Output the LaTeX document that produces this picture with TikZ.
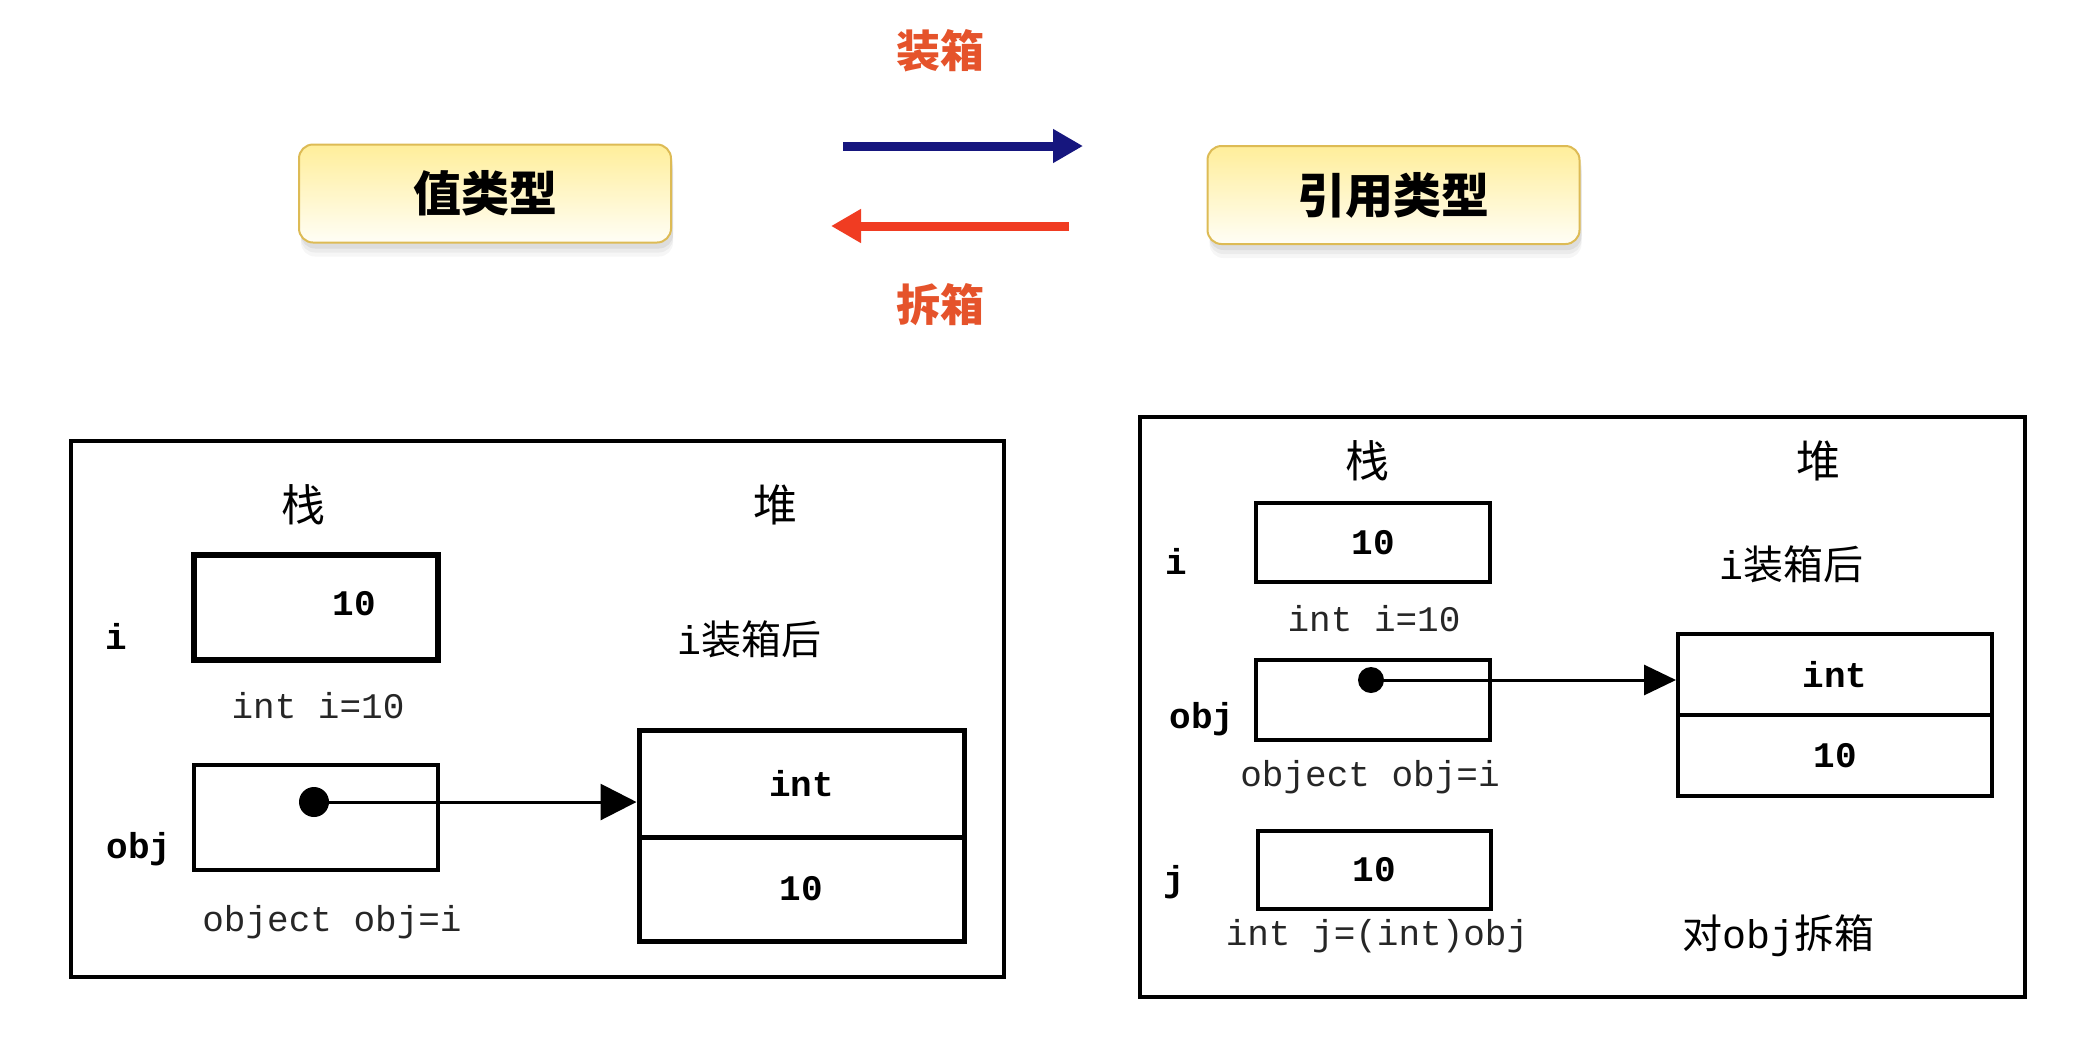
\documentclass[tikz,border=0pt]{standalone}
\usepackage{fontspec}
\usetikzlibrary{arrows.meta,shadows}
\newfontfamily\cjk{Noto Sans CJK SC}
\newfontfamily\mono{Liberation Mono}
\definecolor{ytop}{HTML}{FFEE9A}
\definecolor{ybot}{HTML}{FFFEF6}
\definecolor{yborder}{HTML}{DDBB55}
\definecolor{boxnavy}{HTML}{16167E}
\definecolor{unboxred}{HTML}{F03C22}
\definecolor{labelorange}{HTML}{E5532B}
\tikzset{
  typebox/.style={draw=yborder, line width=1pt, rounded corners=7pt,
    top color=ytop, bottom color=ybot, minimum width=186pt, minimum height=49pt,
    general shadow={shadow xshift=1pt, shadow yshift=-7pt, fill=black, opacity=0.035},
    general shadow={shadow xshift=1pt, shadow yshift=-5pt, fill=black, opacity=0.045},
    general shadow={shadow xshift=1pt, shadow yshift=-3pt, fill=black, opacity=0.06},
    font=\cjk\bfseries\fontsize{24}{28}\selectfont},
  bigarrow/.style={line width=4.5pt, -{Triangle[length=15pt,width=16pt]}},
  actionlabel/.style={text=labelorange, font=\cjk\bfseries\fontsize{22}{26}\selectfont},
  panel/.style={draw, line width=2pt, inner sep=0pt},
  cell/.style={draw, inner sep=0pt, font=\mono\bfseries\fontsize{18}{20}\selectfont},
  heading/.style={font=\cjk\fontsize{22}{26}\selectfont},
  varname/.style={font=\mono\bfseries\fontsize{18}{20}\selectfont},
  codetext/.style={text=black!85, font=\mono\fontsize{18}{20}\selectfont},
  note/.style={font=\fontsize{20}{24}\selectfont},
  refdot/.style={circle, fill=black, inner sep=0pt},
  pointer/.style={line width=1.5pt}
}
\begin{document}
\begin{tikzpicture}[x=0.5pt,y=-0.5pt]
\useasboundingbox (0,0) rectangle (2096,1045);
\fill[white] (0,0) rectangle (2096,1045);

% top part
\node[typebox] (value) at (485,193.5) {值类型};
\node[typebox] (reference) at (1393.5,195) {引用类型};
\coordinate (boxS) at (843,146);
\coordinate (boxE) at (1083,146);
\coordinate (unboxS) at (1069,226);
\coordinate (unboxE) at (831,226);
\draw[bigarrow, draw=boxnavy, fill=boxnavy] (boxS) -- (boxE);
\draw[bigarrow, draw=unboxred, fill=unboxred] (unboxS) -- (unboxE);
\node[actionlabel] (boxing) at (940,51) {装箱};
\node[actionlabel] (unboxing) at (940,305) {拆箱};

% left panel
\node[panel, minimum width=466.5pt, minimum height=268pt] (lframe) at (537.5,709) {};
\node[heading] (lstack) at (303,505) {栈};
\node[heading] (lheap) at (775,505) {堆};
\node[cell, line width=3pt, minimum width=122pt, minimum height=52.5pt] (li) at (316,607.5) {};
\node[varname] (livalue) at (354,604) {10};
\node[varname] (liname) at (116,636) {i};
\node[codetext] (licode) at (318,706) {int i=10};
\node[note] (lafter) at (749,639) {{\mono i}{\cjk 装箱后}};
\node[cell, line width=2pt, minimum width=122pt, minimum height=52.5pt] (lobj) at (316,817.5) {};
\node[varname] (lobjname) at (139,849) {obj};
\node[codetext] (lobjcode) at (332,922) {object obj=i};
\node[cell, line width=2.5pt, minimum width=162.5pt, minimum height=53.5pt] (lheapt) at (801.5,783.5) {int};
\node[cell, line width=2.5pt, minimum width=162.5pt, minimum height=52pt] (lheapb) at (801.5,889) {10};
\node[refdot, minimum size=15pt] (ldot) at (314,802) {};
\draw[pointer, -{Triangle[length=18pt,width=18pt]}] (ldot.center) -- (ldot.center -| lheapt.west);

% right panel
\node[panel, minimum width=442.5pt, minimum height=290pt] (rframe) at (1582.5,707) {};
\node[heading] (rstack) at (1367,461) {栈};
\node[heading] (rheap) at (1818,461) {堆};
\node[cell, line width=2pt, minimum width=117pt, minimum height=39.5pt] (ri) at (1373,542.5) {10};
\node[varname] (riname) at (1176,561) {i};
\node[codetext] (ricode) at (1374,619) {int i=10};
\node[note] (rafter) at (1791,564) {{\mono i}{\cjk 装箱后}};
\node[cell, line width=2pt, minimum width=117pt, minimum height=40pt] (robj) at (1373,700) {};
\node[varname] (robjname) at (1202,719) {obj};
\node[codetext] (robjcode) at (1370,777) {object obj=i};
\node[cell, line width=2pt, minimum width=157pt, minimum height=40.5pt] (rheapt) at (1835,674.5) {int};
\node[cell, line width=2pt, minimum width=157pt, minimum height=40.5pt] (rheapb) at (1835,755.5) {10};
\node[refdot, minimum size=13pt] (rdot) at (1371,680) {};
\draw[pointer, -{Triangle[length=16pt,width=15pt]}] (rdot.center) -- (rdot.center -| rheapt.west);
\node[cell, line width=2pt, minimum width=116.5pt, minimum height=39pt] (rj) at (1374.5,870) {10};
\node[varname] (rjname) at (1174,882) {j};
\node[codetext] (rjcode) at (1377,936) {int j=(int)obj};
\node[note] (runbox) at (1778,936) {{\cjk 对}{\mono obj}{\cjk 拆箱}};
\end{tikzpicture}
\end{document}
